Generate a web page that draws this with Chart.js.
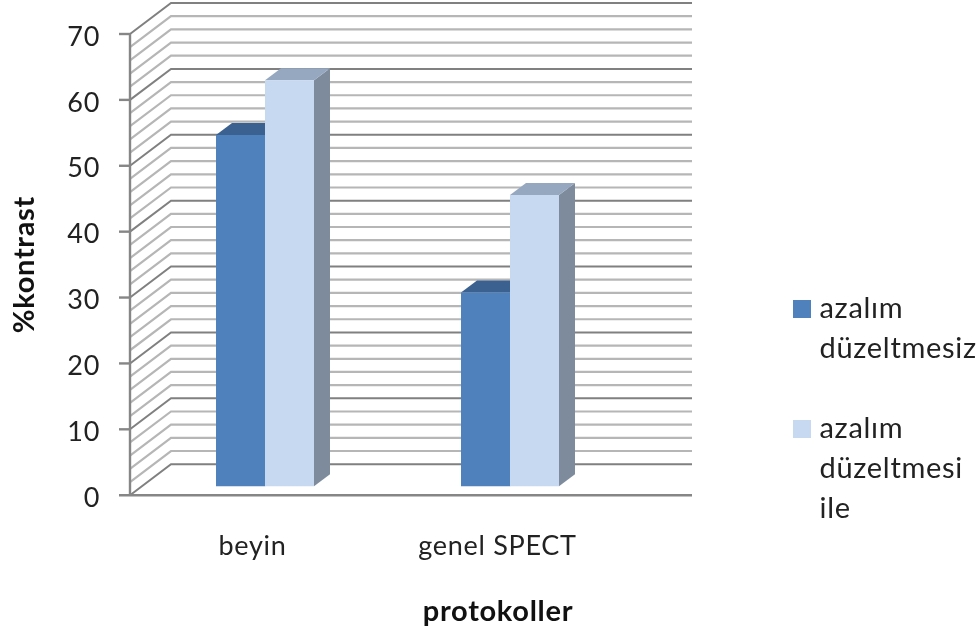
<!DOCTYPE html>
<html><head><meta charset="utf-8">
<style>html,body{margin:0;padding:0;background:#fff}#w{width:980px;height:636px;position:relative}canvas{display:block;filter:blur(0.7px)}</style>
<script src="https://cdn.jsdelivr.net/npm/chart.js@4"></script>
</head><body><div id="w"><canvas id="c" width="980" height="636"></canvas></div>
<script>
const categories = ['beyin', 'genel SPECT'];
const seriesNames = [['azalım', 'düzeltmesiz'], ['azalım', 'düzeltmesi', 'ile']];
const seriesA = [53.3, 29.4];
const seriesB = [61.6, 44.2];
const yMin = 0, yMax = 70, yStep = 2, yLabelStep = 10;

const FONT = 'Lato, Carlito, sans-serif';
const fronts = ['#4F81BD', '#C6D9F1'];
const tops = ['#3A6190', '#95A8BF'];
const sides = ['#3A6190', '#7E8B9C'];
const wall = {dx: 41, dy: -31, right: 692, tick: 11};
const barShift = {x: 12.5, y: -9};
const barDepth = {x: 16, y: -12};
const legendPos = {left: 759, top: 254};
const titleShift = 103;
const tracking = '0.7px';

function swatch(color) {
  const s = document.createElement('canvas');
  s.width = 18; s.height = 18;
  const g = s.getContext('2d');
  g.fillStyle = color;
  g.fillRect(0, 0, 18, 18);
  return s;
}

const walls = {
  id: 'walls',
  beforeLayout(chart) { chart.ctx.letterSpacing = tracking; },
  beforeDraw(chart) { chart.ctx.letterSpacing = tracking; },
  afterLayout(chart) {
    const lg = chart.legend;
    if (lg) { lg.left = legendPos.left; lg.right = 980; lg.top = legendPos.top; lg.bottom = 560; }
    const t = chart.titleBlock;
    if (t) { t.left += titleShift; t.right += titleShift; }
  },
  beforeDatasetsDraw(chart) {
    const {ctx, scales: {y}, chartArea: a} = chart;
    ctx.save();
    y.ticks.forEach(tk => {
      const py = y.getPixelForValue(tk.value);
      const major = tk.value % yLabelStep === 0;
      ctx.strokeStyle = major ? '#808080' : '#b6b6b6';
      ctx.lineWidth = major ? 2 : 2.2;
      ctx.beginPath();
      ctx.moveTo(a.left, py);
      ctx.lineTo(a.left + wall.dx, py + wall.dy);
      ctx.lineTo(wall.right, py + wall.dy);
      ctx.stroke();
    });
    ctx.strokeStyle = '#868686';
    ctx.lineWidth = 2.4;
    ctx.beginPath();
    ctx.moveTo(a.left, y.getPixelForValue(yMax));
    ctx.lineTo(a.left, y.getPixelForValue(yMin));
    ctx.stroke();
    y.ticks.filter(tk => tk.value % yLabelStep === 0).forEach(tk => {
      const py = y.getPixelForValue(tk.value);
      ctx.beginPath();
      ctx.moveTo(a.left - wall.tick, py);
      ctx.lineTo(tk.value === yMin ? wall.right : a.left, py);
      ctx.stroke();
    });
    ctx.translate(barShift.x, barShift.y);
    chart.data.datasets.forEach((d, i) => {
      chart.getDatasetMeta(i).data.forEach(b => {
        const L = b.x - b.width / 2, R = b.x + b.width / 2, T = b.y, B = b.base;
        ctx.fillStyle = sides[i];
        ctx.beginPath();
        ctx.moveTo(R, T); ctx.lineTo(R + barDepth.x, T + barDepth.y);
        ctx.lineTo(R + barDepth.x, B + barDepth.y); ctx.lineTo(R, B);
        ctx.closePath(); ctx.fill();
        ctx.fillStyle = tops[i];
        ctx.beginPath();
        ctx.moveTo(L, T); ctx.lineTo(L + barDepth.x, T + barDepth.y);
        ctx.lineTo(R + barDepth.x, T + barDepth.y); ctx.lineTo(R, T);
        ctx.closePath(); ctx.fill();
      });
    });
    ctx.restore();
  },
  beforeDatasetDraw(chart) {
    chart.ctx.save();
    chart.ctx.translate(barShift.x, barShift.y);
  },
  afterDatasetDraw(chart) { chart.ctx.restore(); }
};

new Chart(document.getElementById('c'), {
  type: 'bar',
  data: {
    labels: categories,
    datasets: [
      {label: seriesNames[0], data: seriesA, backgroundColor: fronts[0], clip: false},
      {label: seriesNames[1], data: seriesB, backgroundColor: fronts[1], clip: false}
    ]
  },
  options: {
    responsive: false,
    animation: false,
    layout: {padding: {left: 0, right: 190, top: 34, bottom: 0}},
    datasets: {bar: {categoryPercentage: 0.4, barPercentage: 1}},
    scales: {
      x: {
        grid: {display: false, drawTicks: false},
        border: {display: false},
        ticks: {padding: 35, color: '#222', font: {family: FONT, size: 27}},
        afterFit: s => { s.height = 99; s.paddingLeft = 0; s.paddingRight = 0; }
      },
      y: {
        min: yMin, max: yMax,
        grid: {display: false, drawTicks: false},
        border: {display: false},
        ticks: {
          stepSize: yStep, autoSkip: false, padding: 30, labelOffset: 3, color: '#222',
          font: {family: FONT, size: 27},
          callback: v => v % yLabelStep === 0 ? String(v) : ''
        },
        title: {display: true, text: '%kontrast', color: '#111', padding: {top: 7, bottom: 0}, font: {family: FONT, size: 29, weight: 'bold'}},
        afterFit: s => { s.width = 130; s.paddingTop = 0; s.paddingBottom = 0; }
      }
    },
    plugins: {
      tooltip: {enabled: false},
      title: {display: true, position: 'bottom', text: 'protokoller', color: '#111', padding: {top: 0, bottom: 7}, font: {family: FONT, size: 29, weight: 'bold'}},
      legend: {
        position: 'right', align: 'start', maxWidth: 170,
        labels: {usePointStyle: true, pointStyleWidth: 6, boxWidth: 18, boxHeight: 18, padding: 40, color: '#222', font: {family: FONT, size: 29, lineHeight: '40px'},
          generateLabels: c => c.data.datasets.map((d, i) => ({text: d.label, fillStyle: d.backgroundColor, strokeStyle: d.backgroundColor, pointStyle: swatch(d.backgroundColor), lineWidth: 0, datasetIndex: i, hidden: false, fontColor: '#222'}))
        }
      }
    }
  },
  plugins: [walls]
});
</script></body></html>
